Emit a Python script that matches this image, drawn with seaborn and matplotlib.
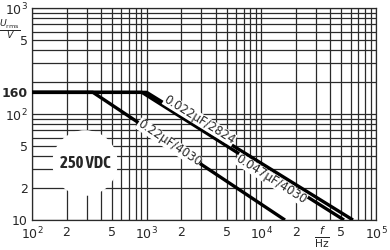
import numpy as np
import pandas as pd
import matplotlib
matplotlib.use("Agg")
import matplotlib.pyplot as plt
from matplotlib.ticker import FixedLocator, LogLocator, NullFormatter
import seaborn as sns

# ---- data ----
series = ["0.022 µF/2824", "0.047 µF/4030", "0.22 µF/4030"]
freq_022 = [100, 1000, 63000]
freq_047 = [100, 910, 52600]
freq_220 = [100, 340, 16070]
volt = [160, 160, 10]

label_f = [2900, 12130, 1570]
label_u = [88.3, 24.2, 53.2]
note_text = "250 VDC"
note_f, note_u = 290, 34.5

xticks = [100, 200, 500, 1000, 2000, 5000, 10000, 20000, 50000, 100000]
xticklabels = ["$10^2$", "2", "5", "$10^3$", "2", "5", "$10^4$", "2", "5", "$10^5$"]
yticks = [10, 20, 50, 100, 160, 500, 1000]
yticklabels = ["10", "2", "5", "$10^2$", "160", "5", "$10^3$"]

rows = []
for name, fr in zip(series, [freq_022, freq_047, freq_220]):
    for f, u in zip(fr, volt):
        rows.append({"f": f, "U": u, "series": name})
df = pd.DataFrame(rows)

sns.set_style("white")
plt.rcParams["font.family"] = ["DejaVu Sans"]

fig = plt.figure(figsize=(3.9, 2.5), dpi=100)
ax = fig.add_axes([32 / 390, 30 / 250, 344 / 390, 212 / 250])
ax.set_xscale("log")
ax.set_yscale("log")
ax.set_xlim(100, 100000)
ax.set_ylim(10, 1000)

# grid lines at 1..9 x decade
for axis in (ax.xaxis, ax.yaxis):
    axis.set_minor_locator(LogLocator(base=10, subs=np.arange(1, 10)))
    axis.set_minor_formatter(NullFormatter())
    axis.remove_overlapping_locs = False
ax.grid(False)
ax.grid(True, which="minor", color="#2a2a2a", lw=0.9)
ax.tick_params(which="both", length=0)

sns.lineplot(data=df, x="f", y="U", units="series", estimator=None,
             color="black", lw=2.4, ax=ax, legend=False, zorder=3,
             solid_capstyle="butt")

ax.xaxis.set_major_locator(FixedLocator(xticks))
ax.set_xticklabels(xticklabels, fontsize=9)
ax.yaxis.set_major_locator(FixedLocator(yticks))
ax.set_yticklabels(yticklabels, fontsize=9)
for lab in ax.get_yticklabels():
    if lab.get_text() == "160":
        lab.set_fontweight("bold")
ax.tick_params(axis="x", pad=4)
ax.tick_params(axis="y", pad=3)
ax.set_xlabel("")
ax.set_ylabel("")
for s in ax.spines.values():
    s.set_color("#2a2a2a")
    s.set_linewidth(0.9)

# line labels rotated along lines
for name, fr, lf, lu in zip(series, [freq_022, freq_047, freq_220], label_f, label_u):
    p1 = ax.transData.transform((fr[1], volt[1]))
    p2 = ax.transData.transform((fr[2], volt[2]))
    ang = np.degrees(np.arctan2(p2[1] - p1[1], p2[0] - p1[0]))
    ax.text(lf, lu, name.replace(" ", ""), rotation=ang, rotation_mode="anchor",
            ha="center", va="center", fontsize=8.5, zorder=4,
            bbox=dict(boxstyle="square,pad=0", fc="white", ec="none"))

ax.text(note_f, note_u, note_text, ha="center", va="center", fontsize=12,
        fontweight="bold", family=["Asap Condensed", "Barlow Condensed", "DejaVu Sans"],
        zorder=4, bbox=dict(boxstyle="circle,pad=0.45", fc="white", ec="none"))

fig.text(10 / 390, 1 - 30 / 250, r"$\frac{U_{\rm rms}}{V}$", ha="center",
         va="center", fontsize=9.5)
ax.text(34000, -0.08, r"$\frac{f}{\rm Hz}$", transform=ax.get_xaxis_transform(),
        ha="center", va="center", fontsize=11)

fig.savefig("out.png", dpi=100)
